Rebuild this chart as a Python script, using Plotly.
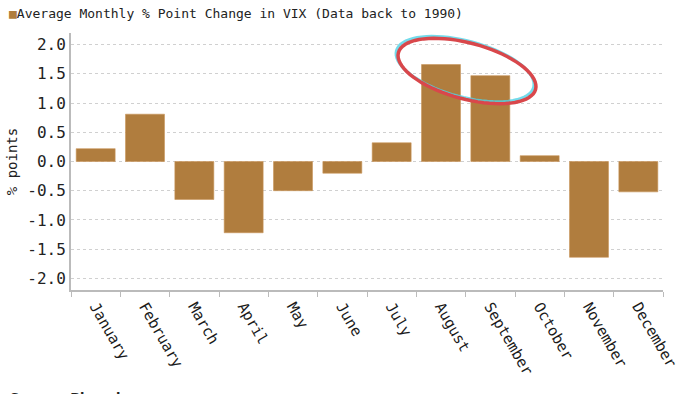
import numpy as np
import plotly.graph_objects as go

months = ["January", "February", "March", "April", "May", "June", "July",
          "August", "September", "October", "November", "December"]
vix_change = [0.22, 0.81, -0.65, -1.22, -0.50, -0.20, 0.32, 1.66, 1.47, 0.10, -1.64, -0.52]
y_ticks = [-2.0, -1.5, -1.0, -0.5, 0.0, 0.5, 1.0, 1.5, 2.0]

W, H = 700, 394
L, R, T, B = 71, 37, 33, 104
pw, ph = W - L - R, H - T - B

BAR = "#B07D3E"
MONO = "DejaVu Sans Mono"

fig = go.Figure()
fig.add_trace(go.Bar(x=months, y=vix_change, marker=dict(color=BAR, line=dict(color="#C9955A", width=0.6)),
                     showlegend=False))

def ellipse_path(cx, cy, a, b, theta_deg, dx=0, dy=0):
    th = np.deg2rad(theta_deg)
    t = np.linspace(0, 2 * np.pi, 73)
    xs = cx + dx + a * np.cos(t) * np.cos(th) - b * np.sin(t) * np.sin(th)
    ys = cy + dy + a * np.cos(t) * np.sin(th) + b * np.sin(t) * np.cos(th)
    px = (xs - L) / pw
    py = (H - B - ys) / ph
    return "M " + " L ".join(f"{x:.4f},{y:.4f}" for x, y in zip(px, py)) + " Z"

shapes = [
    dict(type="path", xref="paper", yref="paper", path=ellipse_path(467, 71, 71, 28, 15, -2, -2),
         line=dict(color="rgba(80,210,230,0.8)", width=3)),
    dict(type="path", xref="paper", yref="paper", path=ellipse_path(467, 71, 71, 28, 15),
         line=dict(color="#D9474B", width=3.5)),
]

fig.update_layout(
    width=W, height=H,
    margin=dict(l=L, r=R, t=T, b=B, autoexpand=False),
    paper_bgcolor="white", plot_bgcolor="white",
    bargap=0.21,
    shapes=shapes,
    xaxis=dict(
        type="category", tickangle=60, tickson="boundaries", ticks="outside", ticklen=5,
        tickcolor="#BBBBBB", showline=True, linecolor="#BBBBBB", linewidth=2,
        tickfont=dict(family=MONO, size=15, color="#1A1A1A"), showgrid=False,
    ),
    yaxis=dict(
        range=[-2.2, 2.2], tickvals=y_ticks, ticktext=[f"{v:.1f}" for v in y_ticks],
        showline=True, linecolor="#BBBBBB", linewidth=2, ticks="",
        showgrid=True, gridcolor="#D0D0D0", griddash="dot", gridwidth=1,
        zeroline=False,
        tickfont=dict(family=MONO, size=16, color="#222222"),
        title=dict(text="% points", font=dict(family=MONO, size=14, color="#222222"), standoff=6),
    ),
    annotations=[
        dict(xref="paper", yref="paper", x=-L / pw + 7 / pw, y=1 + (T - 13) / ph, xanchor="left", yanchor="middle",
             showarrow=False,
             text=f"<span style='color:{BAR}'>■</span>Average Monthly % Point Change in VIX (Data back to 1990)",
             font=dict(family=MONO, size=13, color="#222222")),
        dict(xref="paper", yref="paper", x=-L / pw + 8 / pw, y=-(388 - (H - B)) / ph, xanchor="left", yanchor="top",
             showarrow=False, text="<b>Source: Bloomberg</b>",
             font=dict(family="DejaVu Sans", size=13, color="#222222")),
    ],
)

fig.write_html("out.html", config={"displayModeBar": False},
               post_script="document.body.style.margin='0';document.body.style.overflow='hidden';")
